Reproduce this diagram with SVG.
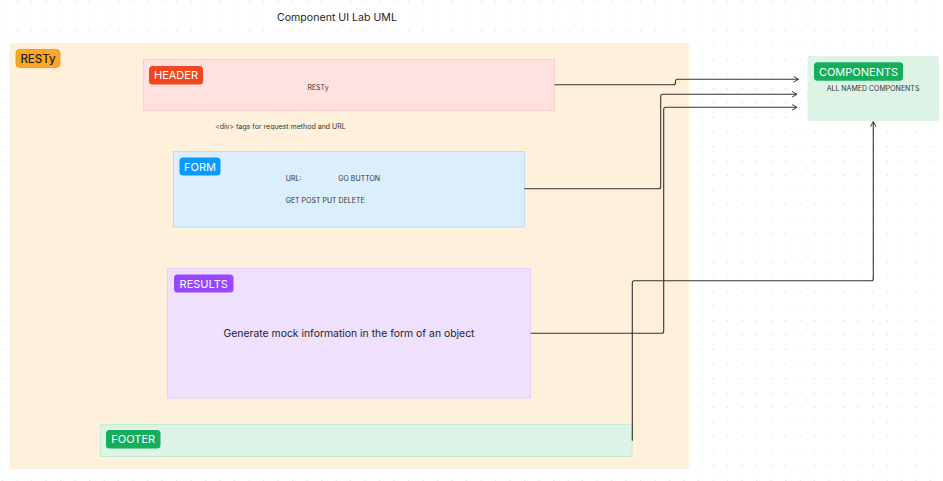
<svg xmlns="http://www.w3.org/2000/svg" width="943" height="481" viewBox="0 0 943 481">
<style>
text{font-family:Inter,"Liberation Sans",sans-serif;}
.lbl{fill:#fff;font-size:11px;font-weight:400;}
.small{fill:#333;font-size:7px;}
.conn{fill:none;stroke:#333;stroke-width:1.1;stroke-linejoin:round;}
</style>
<defs>
<pattern id="dots" patternUnits="userSpaceOnUse" x="2.2" y="1" width="14.5" height="14.5">
<rect x="0" y="0" width="1" height="1" fill="#cfcfcf"/>
</pattern>
<marker id="arr" viewBox="0 0 10 10" refX="9" refY="5" markerWidth="7" markerHeight="7" orient="auto" markerUnits="userSpaceOnUse">
<path d="M2,1 L9,5 L2,9" fill="none" stroke="#333" stroke-width="1.4"/>
</marker>
</defs>
<rect width="943" height="481" fill="#ffffff"/>
<rect width="943" height="481" fill="url(#dots)"/>
<text x="277" y="21" font-size="10.6" fill="#1e1e1e">Component UI Lab UML</text>

<g id="resty">
<rect x="9.5" y="43" width="679.5" height="426" rx="2" fill="#fff0dc"/>
<rect x="16" y="49.5" width="44" height="18" rx="3.5" fill="#ffa629" stroke="#e8941a" stroke-width="0.8"/>
<text x="38" y="62.8" font-size="11.5" font-weight="500" fill="#1e1e1e" text-anchor="middle">RESTy</text>
<text x="215" y="129" class="small">&lt;div&gt; tags for request method and URL</text>
</g>

<g id="header">
<rect x="143.5" y="59.5" width="411" height="51" fill="#ffe2e0" stroke="#ffcdc7" stroke-width="1"/>
<rect x="149" y="66" width="54" height="18.5" rx="3.5" fill="#f24822"/>
<text x="176" y="79.3" class="lbl" text-anchor="middle">HEADER</text>
<text x="318" y="89.5" class="small" text-anchor="middle">RESTy</text>
</g>

<g id="form">
<rect x="173.5" y="151.5" width="351" height="75.5" fill="#daeefd" stroke="#bcdcf5" stroke-width="1"/>
<rect x="179.5" y="157.5" width="41" height="18" rx="3.5" fill="#0d99ff"/>
<text x="200" y="170.7" class="lbl" text-anchor="middle">FORM</text>
<text x="285.7" y="181" class="small">URL:</text>
<text x="338.3" y="181" class="small">GO BUTTON</text>
<text x="285.7" y="202.5" class="small">GET POST PUT DELETE</text>
</g>

<g id="results">
<rect x="167.5" y="268.5" width="363" height="129.5" fill="#efe1fe" stroke="#e3cffc" stroke-width="1"/>
<rect x="174" y="274.5" width="59.5" height="18" rx="3.5" fill="#9747ff"/>
<text x="203.7" y="287.7" class="lbl" text-anchor="middle">RESULTS</text>
<text x="349" y="337" font-size="10.4" fill="#1e1e1e" text-anchor="middle">Generate mock information in the form of an object</text>
</g>

<g id="footer">
<rect x="100.5" y="424.5" width="531.5" height="32" fill="#dcf3e6" stroke="#c6ebd4" stroke-width="1"/>
<rect x="106" y="430" width="54.5" height="18.5" rx="3.5" fill="#14ae5c"/>
<text x="133.2" y="443.3" class="lbl" text-anchor="middle">FOOTER</text>
</g>

<g id="components">
<rect x="807.5" y="56" width="131.5" height="65" rx="2" fill="#dcf3e6"/>
<rect x="814" y="62.3" width="89" height="18.4" rx="3.5" fill="#14ae5c"/>
<text x="858.5" y="75.6" class="lbl" text-anchor="middle">COMPONENTS</text>
<text x="873" y="91" font-size="7" fill="#333" text-anchor="middle">ALL NAMED COMPONENTS</text>
</g>

<g id="connectors">
<path class="conn" d="M554.5,84.7 H673.5 Q675.5,84.7 675.5,82.7 V81.3 Q675.5,79.3 677.5,79.3 H798.5" marker-end="url(#arr)"/>
<path class="conn" d="M524.5,188.7 H658.7 Q660.7,188.7 660.7,186.7 V96.3 Q660.7,94.3 662.7,94.3 H797" marker-end="url(#arr)"/>
<path class="conn" d="M530.7,333.3 H661.7 Q663.7,333.3 663.7,331.3 V109.3 Q663.7,107.3 665.7,107.3 H797" marker-end="url(#arr)"/>
<path class="conn" d="M632.3,440.7 V282.7 Q632.3,280.7 634.3,280.7 H871.3 Q873.3,280.7 873.3,278.7 V121.7" stroke="#6b6b6b" marker-end="url(#arr)"/>
</g>
</svg>
